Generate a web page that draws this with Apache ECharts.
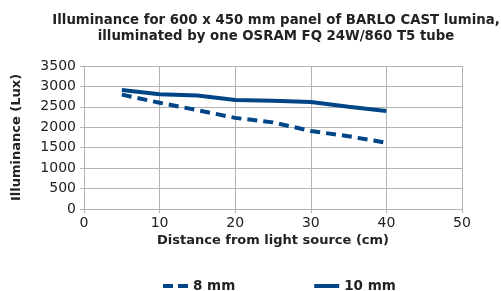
<!DOCTYPE html>
<html><head><meta charset="utf-8">
<script src="https://cdn.jsdelivr.net/npm/echarts@6/dist/echarts.min.js"></script>
<style>html,body{margin:0;padding:0;background:#fff}#c{width:501px;height:291px}</style>
</head><body><div id="c"></div>
<script>
const distances = [5, 10, 15, 20, 25, 30, 35, 40];
const series8mm = [2800, 2600, 2420, 2230, 2120, 1910, 1780, 1620];
const series10mm = [2910, 2810, 2780, 2670, 2650, 2620, 2500, 2400];
const seriesNames = ['8 mm', '10 mm'];
const titleText = 'Illuminance for 600 x 450 mm panel of BARLO CAST lumina,\nilluminated by one OSRAM FQ 24W/860 T5 tube';
const FONT = 'DejaVu Sans';
const blue = '#004586';
const chart = echarts.init(document.getElementById('c'));
chart.setOption({
  animation: false,
  textStyle: { fontFamily: FONT },
  title: { text: titleText, left: 271, textAlign: 'center', top: 8,
    textStyle: { fontFamily: FONT, fontWeight: 'bold', fontSize: 13.3, color: '#222', lineHeight: 16 } },
  legend: { top: 274, left: 158, itemGap: 79, itemWidth: 25, itemHeight: 5,
    textStyle: { fontFamily: FONT, fontWeight: 'bold', fontSize: 13.5, color: '#222' },
    data: [
      { name: seriesNames[0], icon: 'path://M0,0H10V4H0Z M15,0H25V4H15Z' },
      { name: seriesNames[1], icon: 'path://M0,0H25V4H0Z' }
    ] },
  grid: { left: 84, right: 39, top: 66, bottom: 82, containLabel: false },
  xAxis: { type: 'value', min: 0, max: 50, interval: 10,
    name: 'Distance from light source (cm)', nameLocation: 'middle', nameGap: 25,
    nameTextStyle: { fontFamily: FONT, fontWeight: 'bold', fontSize: 13, color: '#222' },
    axisLine: { lineStyle: { color: '#b3b3b3' } }, axisTick: { show: true, length: 4, lineStyle: { color: '#b3b3b3' } },
    axisLabel: { fontSize: 14, color: '#222', margin: 7, formatter: v => String(v) },
    splitLine: { show: true, lineStyle: { color: '#b3b3b3' } } },
  yAxis: { type: 'value', min: 0, max: 3500, interval: 500,
    name: 'Illuminance (Lux)', nameLocation: 'middle', nameGap: 61, nameRotate: 90,
    nameTextStyle: { fontFamily: FONT, fontWeight: 'bold', fontSize: 13, color: '#222' },
    axisLine: { show: true, lineStyle: { color: '#b3b3b3' } }, axisTick: { show: true, length: 4, lineStyle: { color: '#b3b3b3' } },
    axisLabel: { fontSize: 14, color: '#222', margin: 8, formatter: v => String(v) },
    splitLine: { show: true, lineStyle: { color: '#b3b3b3' } } },
  series: [
    { name: seriesNames[0], type: 'line', showSymbol: false, symbol: 'none',
      data: distances.map((d, i) => [d, series8mm[i]]),
      lineStyle: { color: blue, width: 4, type: [10, 6] }, itemStyle: { color: blue } },
    { name: seriesNames[1], type: 'line', showSymbol: false, symbol: 'none',
      data: distances.map((d, i) => [d, series10mm[i]]),
      lineStyle: { color: blue, width: 4 }, itemStyle: { color: blue } }
  ]
});
</script></body></html>
